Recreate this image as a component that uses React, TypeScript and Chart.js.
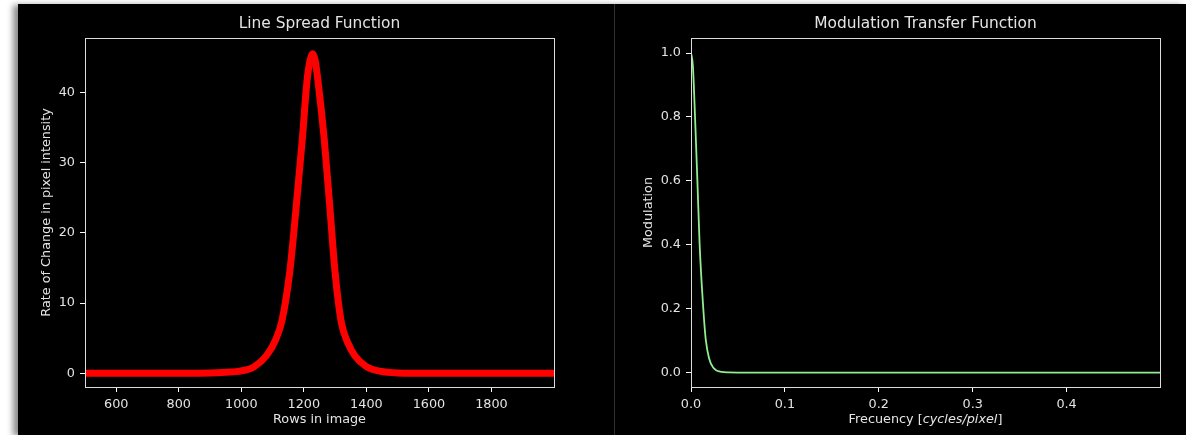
import React, { useEffect, useRef } from "react";
import { Chart, registerables } from "chart.js";
Chart.register(...registerables);

// ---- Data ----
const lsfRows = [500, 700, 900, 950, 1000, 1040, 1080, 1110, 1130, 1155, 1175, 1195, 1210, 1220, 1228, 1236, 1246, 1265, 1283, 1300, 1320, 1340, 1363, 1400, 1443, 1500, 1600, 1800, 2000];
const lsfValues = [0, 0, 0.05, 0.15, 0.35, 0.9, 2.5, 4.8, 7.5, 14.5, 23.5, 33.3, 41.6, 44.6, 45.5, 44.6, 41.3, 33.4, 23.7, 14.3, 7.2, 4.4, 2.5, 0.95, 0.3, 0.05, 0, 0, 0];
const lsfXTicks = [600, 800, 1000, 1200, 1400, 1600, 1800];
const lsfYTicks = [0, 10, 20, 30, 40];

const mtfFreq = [0, 0.002, 0.0043, 0.0068, 0.0092, 0.0131, 0.0157, 0.0192, 0.0238, 0.0327, 0.04, 0.05, 0.4995];
const mtfValues = [1.0, 0.96, 0.8, 0.6, 0.4, 0.2, 0.104, 0.045, 0.015, 0.002, 0.0005, 0, 0];
const mtfXTicks = [0, 0.1, 0.2, 0.3, 0.4];
const mtfYTicks = [0, 0.2, 0.4, 0.6, 0.8, 1.0];

const FAM = "'DejaVu Sans', sans-serif";
const TEXT = "#e4e4e4";
const SPINE = "#dcdcdc";
const FS = 12.8;
const TFS = 15.4;

const boxPlugin = {
  id: "boxSpines",
  afterDraw(chart: any) {
    const { ctx, chartArea: a } = chart;
    ctx.save();
    ctx.strokeStyle = SPINE;
    ctx.lineWidth = 1;
    ctx.strokeRect(Math.round(a.left) + 0.5, Math.round(a.top) + 0.5, Math.round(a.right - a.left), Math.round(a.bottom - a.top));
    ctx.restore();
  },
};

const mixedTitlePlugin = {
  id: "mixedXTitle",
  afterDraw(chart: any) {
    const { ctx, chartArea: a } = chart;
    const xs = chart.scales.x;
    const parts = [
      { t: "Frecuency [", f: `${FS}px ${FAM}` },
      { t: "cycles/pixel", f: `italic ${FS}px ${FAM}` },
      { t: "]", f: `${FS}px ${FAM}` },
    ];
    ctx.save();
    let total = 0;
    const widths = parts.map((p) => {
      ctx.font = p.f;
      const w = ctx.measureText(p.t).width;
      total += w;
      return w;
    });
    let x = (a.left + a.right) / 2 - total / 2;
    const y = xs.bottom - 7.2 - (FS * 1.2) / 2;
    ctx.fillStyle = TEXT;
    ctx.textBaseline = "middle";
    ctx.textAlign = "left";
    parts.forEach((p, i) => {
      ctx.font = p.f;
      ctx.fillText(p.t, x, y);
      x += widths[i];
    });
    ctx.restore();
  },
};

function tickGrid() {
  return {
    display: true,
    drawOnChartArea: false,
    drawTicks: true,
    tickLength: 5,
    color: "#ffffff",
    tickColor: "#ffffff",
    tickWidth: 1,
  };
}

function LSFChart() {
  const ref = useRef<HTMLCanvasElement | null>(null);
  useEffect(() => {
    if (!ref.current) return;
    const chart = new Chart(ref.current, {
      type: "line",
      data: {
        datasets: [
          {
            data: lsfRows.map((r, i) => ({ x: r, y: lsfValues[i] })),
            borderColor: "#ff0000",
            backgroundColor: "#ff0000",
            borderWidth: 7,
            pointRadius: 0,
            cubicInterpolationMode: "monotone",
            borderJoinStyle: "round",
            borderCapStyle: "butt",
            fill: false,
            clip: 0,
          } as any,
        ],
      },
      options: {
        animation: false,
        responsive: false,
        devicePixelRatio: 1,
        layout: { padding: { left: 0, right: 60, top: 0, bottom: 0 } },
        plugins: {
          legend: { display: false },
          tooltip: { enabled: false },
          title: {
            display: true,
            text: "Line Spread Function",
            color: TEXT,
            font: { family: FAM, size: TFS, weight: "normal" },
            padding: { top: 11.2, bottom: 4.3 },
            fullSize: false,
          } as any,
        },
        scales: {
          x: {
            type: "linear",
            min: 500,
            max: 2000,
            afterBuildTicks: (s: any) => {
              s.ticks = lsfXTicks.map((v) => ({ value: v }));
            },
            afterFit: (s: any) => {
              s.height = 48;
            },
            grid: tickGrid() as any,
            border: { display: false },
            ticks: {
              color: TEXT,
              font: { family: FAM, size: FS },
              padding: 4.5,
              maxRotation: 0,
              autoSkip: false,
              callback: (v: any) => String(v),
            },
            title: {
              display: true,
              text: "Rows in image",
              color: TEXT,
              font: { family: FAM, size: FS },
              padding: { top: 0, bottom: 7.2 },
            },
          },
          y: {
            type: "linear",
            min: -1.95,
            max: 47.75,
            afterBuildTicks: (s: any) => {
              s.ticks = lsfYTicks.map((v) => ({ value: v }));
            },
            afterFit: (s: any) => {
              s.width = 67;
            },
            grid: tickGrid() as any,
            border: { display: false },
            ticks: {
              color: TEXT,
              font: { family: FAM, size: FS },
              padding: 5,
              autoSkip: false,
              callback: (v: any) => String(v),
            },
            title: {
              display: true,
              text: "Rate of Change in pixel intensity",
              color: TEXT,
              font: { family: FAM, size: FS },
              padding: { top: 21, bottom: 0 },
            },
          },
        },
      } as any,
      plugins: [boxPlugin],
    });
    return () => chart.destroy();
  }, []);
  return <canvas ref={ref} width={596} height={431} style={{ position: "absolute", left: 0, top: 0, width: 596, height: 431 }} />;
}

function MTFChart() {
  const ref = useRef<HTMLCanvasElement | null>(null);
  useEffect(() => {
    if (!ref.current) return;
    const chart = new Chart(ref.current, {
      type: "line",
      data: {
        datasets: [
          {
            data: mtfFreq.map((f, i) => ({ x: f, y: mtfValues[i] })),
            borderColor: "#90ee90",
            backgroundColor: "#90ee90",
            borderWidth: 1.8,
            pointRadius: 0,
            cubicInterpolationMode: "monotone",
            fill: false,
            clip: 0,
          } as any,
        ],
      },
      options: {
        animation: false,
        responsive: false,
        devicePixelRatio: 1,
        layout: { padding: { left: 0, right: 26, top: 0, bottom: 0 } },
        plugins: {
          legend: { display: false },
          tooltip: { enabled: false },
          title: {
            display: true,
            text: "Modulation Transfer Function",
            color: TEXT,
            font: { family: FAM, size: TFS, weight: "normal" },
            padding: { top: 11.2, bottom: 4.3 },
            fullSize: false,
          } as any,
        },
        scales: {
          x: {
            type: "linear",
            min: 0,
            max: 0.4995,
            afterBuildTicks: (s: any) => {
              s.ticks = mtfXTicks.map((v) => ({ value: v }));
            },
            afterFit: (s: any) => {
              s.height = 48;
            },
            grid: tickGrid() as any,
            border: { display: false },
            ticks: {
              color: TEXT,
              font: { family: FAM, size: FS },
              padding: 4.5,
              maxRotation: 0,
              autoSkip: false,
              callback: (v: any) => Number(v).toFixed(1),
            },
            title: {
              display: true,
              text: "Frecuency [cycles/pixel]",
              color: "rgba(0,0,0,0)",
              font: { family: FAM, size: FS },
              padding: { top: 0, bottom: 7.2 },
            },
          },
          y: {
            type: "linear",
            min: -0.045,
            max: 1.047,
            afterBuildTicks: (s: any) => {
              s.ticks = mtfYTicks.map((v) => ({ value: v }));
            },
            afterFit: (s: any) => {
              s.width = 76;
            },
            grid: tickGrid() as any,
            border: { display: false },
            ticks: {
              color: TEXT,
              font: { family: FAM, size: FS },
              padding: 5,
              autoSkip: false,
              callback: (v: any) => Number(v).toFixed(1),
            },
            title: {
              display: true,
              text: "Modulation",
              color: TEXT,
              font: { family: FAM, size: FS },
              padding: { top: 26.4, bottom: 0 },
            },
          },
        },
      } as any,
      plugins: [boxPlugin, mixedTitlePlugin],
    });
    return () => chart.destroy();
  }, []);
  return <canvas ref={ref} width={571} height={431} style={{ position: "absolute", left: 597, top: 0, width: 571, height: 431 }} />;
}

export default function App() {
  return (
    <div style={{ position: "absolute", left: 0, top: 0, width: 1186, height: 435, background: "#ffffff", overflow: "hidden" }}>
      <div
        style={{
          position: "absolute",
          left: 18,
          top: 4,
          width: 1168,
          height: 431,
          background: "#000000",
          boxShadow: "-5px 1px 6px rgba(0,0,0,0.45)",
        }}
      >
        <LSFChart />
        <div style={{ position: "absolute", left: 596, top: 0, width: 1, height: 431, background: "#2e2e2e" }} />
        <MTFChart />
      </div>
    </div>
  );
}
